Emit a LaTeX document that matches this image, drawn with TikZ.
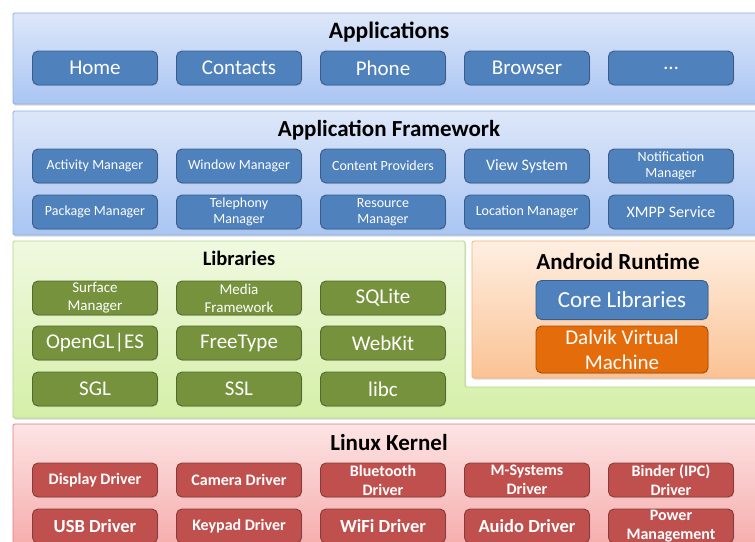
\documentclass[tikz,border=0pt]{standalone}
\usepackage{fontspec}
\setmainfont{Carlito}
\usetikzlibrary{shadows}
\definecolor{appTop}{HTML}{DDE7F9}
\definecolor{appBot}{HTML}{A9C5F3}
\definecolor{appLine}{HTML}{8EAEDC}
\definecolor{libTop}{HTML}{F0F9E0}
\definecolor{libBot}{HTML}{D5EFA8}
\definecolor{libLine}{HTML}{B3D58A}
\definecolor{rtTop}{HTML}{FEEFE2}
\definecolor{rtBot}{HTML}{FBC294}
\definecolor{rtLine}{HTML}{F5B07C}
\definecolor{krnTop}{HTML}{FDE4E4}
\definecolor{krnBot}{HTML}{F5A6A6}
\definecolor{krnLine}{HTML}{E27B7B}
\definecolor{boxBlue}{HTML}{4F81BD}
\definecolor{boxGreen}{HTML}{76923C}
\definecolor{boxRed}{HTML}{C0504D}
\definecolor{boxOrange}{HTML}{E46C0A}
\tikzset{
	every layer/.style={
		line width=0.8pt,
		rounded corners=1.5pt,
		drop shadow={shadow xshift=1pt, shadow yshift=-1.5pt, opacity=0.3}
	},
	layer app/.style={top color=appTop, bottom color=appBot, draw=appLine},
	layer lib/.style={top color=libTop, bottom color=libBot, draw=libLine},
	layer rt/.style={top color=rtTop, bottom color=rtBot, draw=rtLine},
	layer krn/.style={top color=krnTop, bottom color=krnBot, draw=krnLine},
	every block/.style={
		rectangle,
		rounded corners=5.5pt,
		line width=0.9pt,
		minimum width=125pt,
		minimum height=34pt,
		inner sep=0pt,
		align=center,
		text=white,
		drop shadow={shadow xshift=0.8pt, shadow yshift=-1pt, opacity=0.25}
	},
	block blue/.style={fill=boxBlue, draw=boxBlue!72!black},
	block green/.style={fill=boxGreen, draw=boxGreen!72!black},
	block red/.style={fill=boxRed, draw=boxRed!72!black},
	block orange/.style={fill=boxOrange, draw=boxOrange!72!black},
	layer title/.style={font=\bfseries\fontsize{23}{26}\selectfont}
}
\newcommand{\fs}[2]{\fontsize{#1}{#2}\selectfont}

\begin{document}
\begin{tikzpicture}[x=1pt, y=-1pt]
\useasboundingbox (0,0) rectangle (755,541);
\clip (0,0) rectangle (755,541);

% layers
\draw [every layer, layer app] (13,13) rectangle (770,104);
\draw [every layer, layer app] (13,111) rectangle (770,235);
\draw [every layer, layer lib] (13,241) -- (465,241) -- (465,387)
	-- (770,387) -- (770,418) -- (13,418) -- cycle;
\draw [every layer, layer rt] (472,241) rectangle (770,378);
\draw [every layer, layer krn] (13,424) rectangle (770,560);

\node [layer title, font=\bfseries\fs{23.5}{26}] (t-app) at (389,32) {Applications};
\node [layer title] (t-fw) at (389,130) {Application Framework};
\node [layer title, font=\bfseries\fs{20.5}{24}] (t-lib) at (239,258) {Libraries};
\node [layer title] (t-rt) at (618,261) {Android Runtime};
\node [layer title] (t-krn) at (389,443) {Linux Kernel};

% applications
\foreach \l [count=\i] in {Home, Contacts, Phone, Browser, \ldots}
	\node [every block/.try, block blue, font=\fs{21}{24}] (app-\i) at (\i*144-49,68) {\l};

% application framework
\foreach \s/\l [count=\i] in {14/Activity Manager, 14/Window Manager,
		14/Content Providers, 16/View System, 14/{Notification\\Manager}}
	\node [every block/.try, block blue, font=\fs{\s}{16.5}] (fw-1-\i) at (\i*144-49,166) {\l};

\foreach \s/\l [count=\i] in {14/Package Manager, 14/{Telephony\\Manager},
		14/{Resource\\Manager}, 14/Location Manager, 16/XMPP Service}
	\node [every block/.try, block blue, font=\fs{\s}{16.5}] (fw-2-\i) at (\i*144-49,212) {\l};

% libraries
\foreach \s/\l [count=\i] in {15/{Surface\\Manager}, 15/{Media\\Framework}, 21/SQLite}
	\node [every block/.try, block green, font=\fs{\s}{18}] (lib-1-\i) at (\i*144-49,298) {\l};
\foreach \l [count=\i] in {OpenGL|ES, FreeType, WebKit}
	\node [every block/.try, block green, font=\fs{21}{24}] (lib-2-\i) at (\i*144-49,343) {\l};
\foreach \l [count=\i] in {SGL, SSL, libc}
	\node [every block/.try, block green, font=\fs{21}{24}] (lib-3-\i) at (\i*144-49,389) {\l};

% android runtime
\node [every block/.try, block blue, minimum width=172pt, minimum height=39pt,
	font=\fs{23}{26}] (rt-core) at (622,300) {Core Libraries};
\node [every block/.try, block orange, minimum width=172pt, minimum height=47pt,
	font=\fs{21}{25}] (rt-dvm) at (622,349.5) {Dalvik Virtual\\Machine};

% linux kernel
\foreach \s/\l [count=\i] in {16/Display Driver, 16/Camera Driver, 16/{Bluetooth\\Driver},
		16/{M-Systems\\Driver}, 16/{Binder (IPC)\\Driver}}
	\node [every block/.try, block red, font=\bfseries\fs{\s}{19}] (krn-1-\i) at (\i*144-49,480) {\l};
\foreach \s/\l [count=\i] in {18.5/USB Driver, 16/Keypad Driver, 18.5/WiFi Driver,
		18.5/Auido Driver, 16/{Power\\Management}}
	\node [every block/.try, block red, font=\bfseries\fs{\s}{19}] (krn-2-\i) at (\i*144-49,526) {\l};

\end{tikzpicture}
\end{document}
